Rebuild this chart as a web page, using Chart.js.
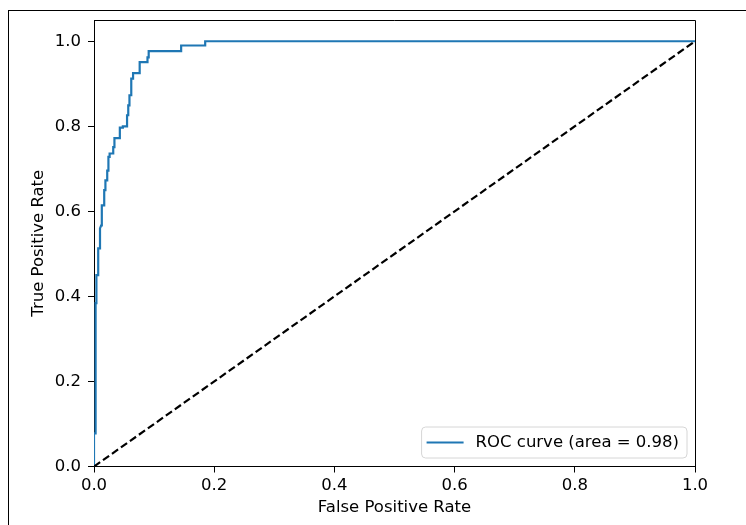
<!DOCTYPE html>
<html>
<head>
<meta charset="utf-8">
<script src="https://cdn.jsdelivr.net/npm/chart.js@4.4.1/dist/chart.umd.min.js"></script>
<style>
  html, body { margin: 0; padding: 0; background: #fff; }
  #wrap { position: relative; width: 746px; height: 525px; overflow: hidden; }
  #frame { position: absolute; left: 8px; top: 10px; right: -4px; bottom: -4px; border-left: 1px solid #000; border-top: 1px solid #000; }
  #roc { position: absolute; left: 0; top: 0; }
</style>
</head>
<body>
<div id="wrap">
  <div id="frame"></div>
  <canvas id="roc" width="746" height="525"></canvas>
</div>
<script>
// --- Data ---
const fpr = [0, 0, 0.002, 0.002, 0.003, 0.003, 0.004, 0.004, 0.007, 0.007, 0.010, 0.010,
  0.012, 0.013, 0.013, 0.017, 0.017, 0.019, 0.019, 0.022, 0.022, 0.024, 0.024, 0.026,
  0.026, 0.032, 0.032, 0.034, 0.034, 0.043, 0.043, 0.048, 0.048, 0.055, 0.055, 0.057,
  0.057, 0.059, 0.059, 0.062, 0.062, 0.065, 0.065, 0.076, 0.076, 0.089, 0.089, 0.091,
  0.091, 0.145, 0.145, 0.185, 0.185, 1.0]
const tpr = [0, 0.078, 0.078, 0.333, 0.333, 0.384, 0.384, 0.45, 0.45, 0.513, 0.513, 0.56,
  0.567, 0.567, 0.614, 0.614, 0.65, 0.65, 0.673, 0.673, 0.696, 0.696, 0.728, 0.728,
  0.736, 0.736, 0.751, 0.751, 0.772, 0.772, 0.797, 0.797, 0.80, 0.80, 0.826, 0.826,
  0.849, 0.849, 0.873, 0.873, 0.912, 0.912, 0.925, 0.925, 0.951, 0.951, 0.962, 0.962,
  0.977, 0.977, 0.99, 0.99, 1.0, 1.0]
const chanceX = [0, 1]
const chanceY = [0, 1]
const xTicks = [0, 0.2, 0.4, 0.6, 0.8, 1.0]
const yTicks = [0, 0.2, 0.4, 0.6, 0.8, 1.0]
const rocLabel = 'ROC curve (area = 0.98)'

const FONT_FAMILY = '"DejaVu Sans", sans-serif'
const FONT_SIZE = 16.5
const font = { family: FONT_FAMILY, size: FONT_SIZE }

// top + right spines and the legend box inside the axes
const mplFrame = {
  id: 'mplFrame',
  afterDraw(chart) {
    const { ctx, chartArea } = chart
    ctx.save()
    ctx.strokeStyle = '#000'
    ctx.lineWidth = 1
    ctx.beginPath()
    ctx.moveTo(chartArea.left, chartArea.top + 0.5)
    ctx.lineTo(chartArea.right + 0.5, chartArea.top + 0.5)
    ctx.lineTo(chartArea.right + 0.5, chartArea.bottom)
    ctx.stroke()

    const ds = chart.data.datasets.find(d => d.label)
    ctx.font = `${FONT_SIZE}px ${FONT_FAMILY}`
    const textW = ctx.measureText(ds.label).width
    const w = 5 + 37 + 12 + textW + 8
    const h = 31
    const right = chartArea.right - 8
    const bottom = chartArea.bottom - 8.5
    const left = right - w
    const top = bottom - h
    ctx.beginPath()
    ctx.roundRect(left, top, w, h, 4)
    ctx.fillStyle = 'rgba(255,255,255,0.8)'
    ctx.fill()
    ctx.strokeStyle = '#d6d6d6'
    ctx.stroke()
    const cy = top + h / 2
    ctx.strokeStyle = ds.borderColor
    ctx.lineWidth = ds.borderWidth
    ctx.beginPath()
    ctx.moveTo(left + 5, cy)
    ctx.lineTo(left + 42, cy)
    ctx.stroke()
    ctx.fillStyle = '#000'
    ctx.textBaseline = 'middle'
    ctx.fillText(ds.label, left + 54, cy)
    ctx.restore()
  }
}

const ctx = document.getElementById('roc').getContext('2d')
new Chart(ctx, {
  type: 'scatter',
  data: {
    datasets: [
      {
        label: rocLabel,
        data: fpr.map((x, i) => ({ x, y: tpr[i] })),
        showLine: true,
        borderColor: '#1f77b4',
        borderWidth: 2.2,
        pointRadius: 0,
        order: 1
      },
      {
        label: '',
        data: chanceX.map((x, i) => ({ x, y: chanceY[i] })),
        showLine: true,
        borderColor: '#000',
        borderWidth: 2.2,
        borderDash: [7.5, 3.5],
        pointRadius: 0,
        order: 0
      }
    ]
  },
  options: {
    responsive: false,
    animation: false,
    layout: { padding: { left: 0, right: 51, top: 20, bottom: 0 } },
    plugins: { legend: { display: false }, tooltip: { enabled: false } },
    scales: {
      x: {
        type: 'linear', min: 0, max: 1, z: 1,
        border: { display: true, color: '#000', width: 1 },
        grid: { drawOnChartArea: false, drawTicks: true, tickLength: 6, tickColor: '#000' },
        ticks: { color: '#000', font, padding: 3, maxRotation: 0, callback: v => v.toFixed(1) },
        afterBuildTicks: s => { s.ticks = xTicks.map(v => ({ value: v })) },
        afterFit: s => { s.height = 58.5 },
        title: { display: true, text: 'False Positive Rate', color: '#000', font, padding: { top: 0, bottom: 7 } }
      },
      y: {
        type: 'linear', min: 0, max: 1.05, z: 1,
        border: { display: true, color: '#000', width: 1 },
        grid: { drawOnChartArea: false, drawTicks: true, tickLength: 6, tickColor: '#000' },
        ticks: { color: '#000', font, padding: 7, callback: v => v.toFixed(1) },
        afterBuildTicks: s => { s.ticks = yTicks.map(v => ({ value: v })) },
        afterFit: s => { s.width = 94 },
        title: { display: true, text: 'True Positive Rate', color: '#000', font, padding: { top: 28.6, bottom: 0 } }
      }
    }
  },
  plugins: [mplFrame]
})
</script>
</body>
</html>
